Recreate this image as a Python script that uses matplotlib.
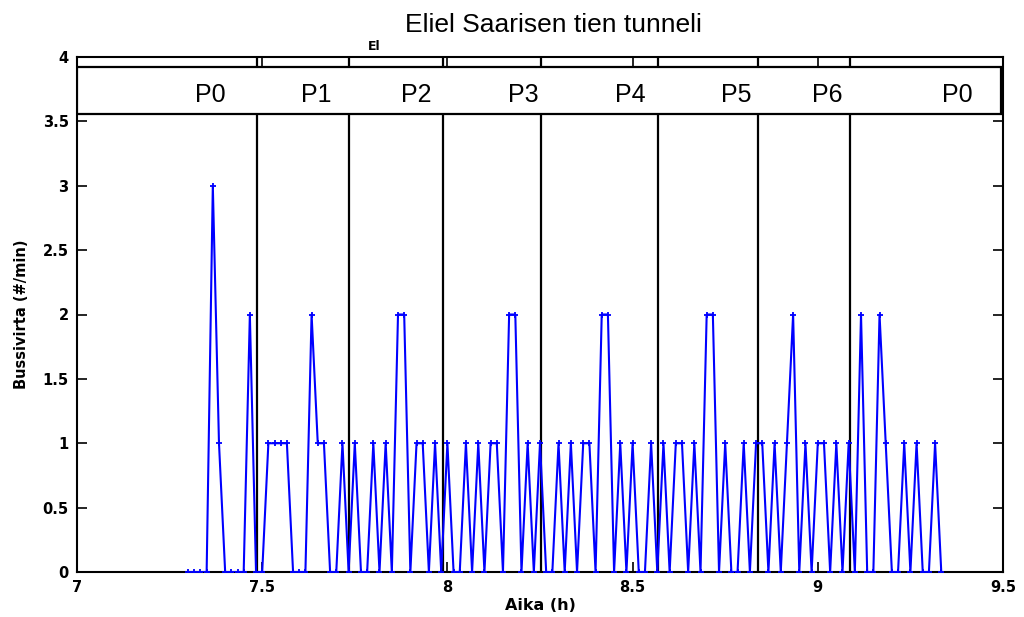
import numpy as np
import matplotlib
matplotlib.use("Agg")
import matplotlib.pyplot as plt
from matplotlib.patches import Rectangle

# ---- data ----
start_minute = 438  # 7:18
bus_counts = [0, 0, 0, 0, 3, 1, 0, 0, 0, 0,
              2, 0, 0, 1, 1, 1, 1, 0, 0, 0,
              2, 1, 1, 0, 0, 1, 0, 1, 0, 0,
              1, 0, 1, 0, 2, 2, 0, 1, 1, 0,
              1, 0, 1, 0, 0, 1, 0, 1, 0, 1,
              1, 0, 2, 2, 0, 1, 0, 1, 0, 0,
              1, 0, 1, 0, 1, 1, 0, 2, 2, 0,
              1, 0, 1, 0, 0, 1, 0, 1, 0, 1,
              1, 0, 1, 0, 2, 2, 0, 1, 0, 0,
              1, 0, 1, 1, 0, 1, 0, 1, 2, 0,
              1, 0, 1, 1, 0, 1, 0, 1, 0, 2,
              0, 0, 2, 1, 0, 0, 1, 0, 1, 0,
              0, 1, 0]
period_bounds = [7.485, 7.735, 7.988, 8.253, 8.568, 8.839, 9.087]
period_labels = ["P0", "P1", "P2", "P3", "P4", "P5", "P6", "P0"]
label_x = [7.361, 7.647, 7.917, 8.206, 8.494, 8.780, 9.025, 9.376]
x_ticks = [7, 7.5, 8, 8.5, 9, 9.5]
x_tick_labels = ["7", "7.5", "8", "8.5", "9", "9.5"]
y_ticks = [0, 0.5, 1, 1.5, 2, 2.5, 3, 3.5, 4]
y_tick_labels = ["0", "0.5", "1", "1.5", "2", "2.5", "3", "3.5", "4"]

minutes = start_minute + np.arange(len(bus_counts))
hours = minutes / 60.0

# ---- figure ----
fig = plt.figure(figsize=(10.24, 6.17), dpi=100)
ax = fig.add_axes([77/1024, 1-572/617, (1003-77)/1024, (572-57)/617])

ax.plot(hours, bus_counts, color=(0, 0, 1), lw=1.5, marker='+',
        markersize=5, markeredgewidth=1.3, zorder=3)

for b in period_bounds:
    ax.axvline(b, color='black', lw=1.6, zorder=2)

box = Rectangle((7.0, 3.557), 9.495 - 7.0, 3.925 - 3.557, facecolor='white',
                edgecolor='black', lw=1.6, zorder=5)
ax.add_patch(box)
for lx, lab in zip(label_x, period_labels):
    ax.text(lx, 3.653, lab, ha='center', va='baseline', fontsize=18,
            family='Liberation Sans', zorder=6)

ax.set_xlim(7, 9.5)
ax.set_ylim(0, 4)
ax.set_xticks(x_ticks)
ax.set_xticklabels(x_tick_labels)
ax.set_yticks(y_ticks)
ax.set_yticklabels(y_tick_labels)
ax.tick_params(direction='in', length=7, width=1.2, top=True, right=True,
               labelsize=10.5, pad=6)
for lbl in ax.get_xticklabels() + ax.get_yticklabels():
    lbl.set_fontweight('bold')
for s in ax.spines.values():
    s.set_linewidth(1.5)

ax.set_xlabel("Aika (h)", fontsize=11.5, fontweight='bold', labelpad=2)
ax.set_ylabel("Bussivirta (#/min)", fontsize=10.5, fontweight='bold', labelpad=10)

fig.text(553/1024, 1-32/617, "Eliel Saarisen tien tunneli", ha='center',
         va='baseline', fontsize=19, family='Liberation Sans')
fig.text(374/1024, 1-50/617, "El", ha='center', va='baseline', fontsize=9,
         fontweight='bold')

fig.savefig("out.png", dpi=100)
